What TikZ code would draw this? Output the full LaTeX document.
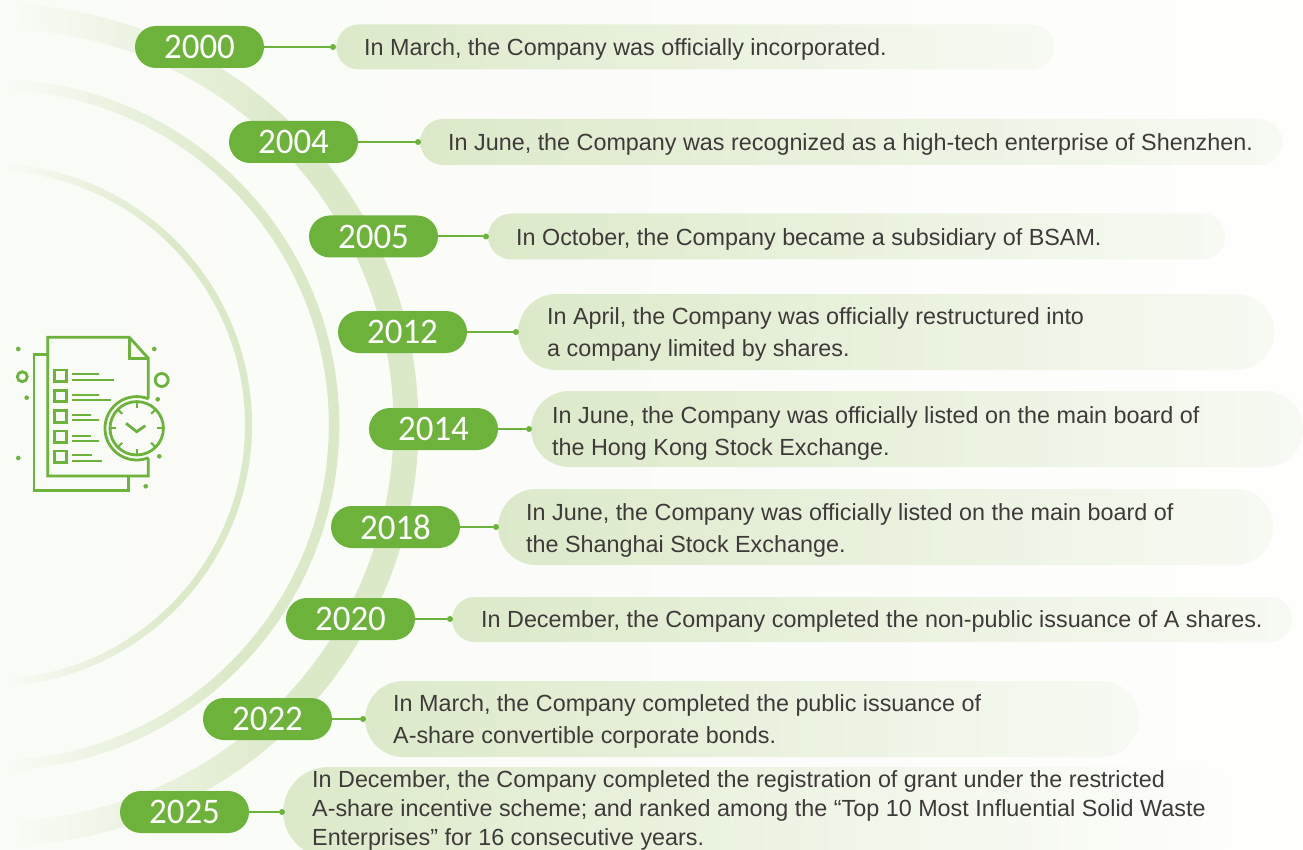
\documentclass[tikz,border=0pt]{standalone}
\usepackage{fontspec}
\setmainfont{Liberation Sans}
\newfontfamily\yearfont[FakeStretch=0.97]{Carlito}
\definecolor{leaf}{HTML}{6CB23B}
\definecolor{barleft}{HTML}{DCE9C9}
\definecolor{barright}{HTML}{F7FAF3}
\definecolor{paperleft}{HTML}{F9FBF6}
\definecolor{paperright}{HTML}{FEFEFD}
\definecolor{ink}{HTML}{3E3A39}
\tikzset{
  yearpill/.style={fill=leaf,text=white,rounded corners=21pt,minimum width=129pt,minimum height=42pt,inner sep=0pt,font=\yearfont\fontsize{36}{36}\selectfont},
  textbar/.style={left color=barleft,right color=barright,anchor=west,inner sep=0pt},
  desc/.style={anchor=west,inner sep=0pt,align=left,text=ink,font=\fontsize{23.35}{32}\selectfont},
  enddot/.style={circle,fill=leaf,minimum size=6pt,inner sep=0pt},
  link/.style={draw=leaf,line width=2pt},
  iconline/.style={draw=leaf,line width=2.8pt,line join=miter},
  iconthin/.style={draw=leaf,line width=2.1pt}
}

\begin{document}
\begin{tikzpicture}[x=1pt,y=-1pt]
\useasboundingbox (0,0) rectangle (1303,850);
\clip (0,0) rectangle (1303,850);
\shade[left color=paperleft,right color=paperright] (0,0) rectangle (1303,850);     %background

\begin{scope}[even odd rule]     %wide arc
\clip (-2.5,425) circle (421pt) (-2.5,425) circle (396pt);
\shade[left color=paperleft,right color=barleft] (15,0) rectangle (290,850);
\fill[barleft] (290,0) rectangle (430,850);
\end{scope}
\begin{scope}[even odd rule]     %middle arc
\clip (-6.4,425) circle (345.7pt) (-6.4,425) circle (335.2pt);
\shade[left color=paperleft,right color=barleft] (5,0) rectangle (230,850);
\fill[barleft] (230,0) rectangle (350,850);
\end{scope}
\begin{scope}[even odd rule]     %inner arc
\clip (-9.2,425) circle (261.2pt) (-9.2,425) circle (254.2pt);
\shade[left color=paperleft,right color=barleft] (5,0) rectangle (170,850);
\fill[barleft] (170,0) rectangle (260,850);
\end{scope}

%clock and list icon
\draw[iconline] (148.3,398.3) -- (148.3,358.3) -- (129.3,337.3) -- (47.7,337.3) -- (47.7,476) -- (148.3,476) -- (148.3,458.3);     %front page
\draw[iconline] (129.3,337.3) -- (129.3,358.3) -- (148.3,358.3);     %fold
\draw[iconline] (47.7,354.3) -- (34,354.3) -- (34,490.7) -- (128.3,490.7) -- (128.3,476);     %back page
\foreach \y in {375.7,396,416.3,436.7,456.7}
  \draw[iconline] (54.5,\y-5.8) rectangle (66.2,\y+5.8);     %check boxes
\foreach \y/\xa/\ya/\xb in {374.3/99.3/380/114.3,395/99.3/400.3/111,415.3/91.3/420.3/99.3,435.7/90.7/440.7/99.3,455.3/92.3/460.7/102.3}{
  \draw[iconthin] (71.7,\y) -- (\xa,\y);
  \draw[iconthin] (71.7,\ya) -- (\xb,\ya);
}
\coordinate (clock) at (136.7,428.3);
\draw[iconline] ([shift={(68:31.7pt)}]clock) arc (68:292:31.7pt);     %open ring
\draw[iconline] (clock) circle (26.7pt);     %clock face
\foreach \a in {0,45,...,315}
  \draw[iconthin] ([shift={(\a:26.7pt)}]clock) -- ([shift={(\a:20.5pt)}]clock);     %ticks
\draw[iconline] (126,423.3) -- (136.7,431.7) -- (145.3,425.7);     %hands
\draw[iconline] (22.3,376.7) circle (5pt);
\draw[iconline] (161.7,380) circle (6.5pt);
\foreach \x/\y in {18.3/349,26.7/397.7,18.3/458,154.3/349,157.7/399.3,159.3/456.3,145.7/486.3}
  \fill[leaf] (\x,\y) circle (2.3pt);

%text bars
\node[textbar,minimum width=718pt,minimum height=45pt,rounded corners=22.5pt] (bar2000) at (336,47) {};
\node[textbar,minimum width=862pt,minimum height=46pt,rounded corners=23pt] (bar2004) at (420,142) {};
\node[textbar,minimum width=737pt,minimum height=46pt,rounded corners=23pt] (bar2005) at (488,236.5) {};
\node[textbar,minimum width=756pt,minimum height=76pt,rounded corners=38pt] (bar2012) at (518,332) {};
\node[textbar,minimum width=772pt,minimum height=76pt,rounded corners=38pt] (bar2014) at (531,429) {};
\node[textbar,minimum width=775pt,minimum height=76pt,rounded corners=38pt] (bar2018) at (498,527) {};
\node[textbar,minimum width=840pt,minimum height=45pt,rounded corners=22.5pt] (bar2020) at (452,619.5) {};
\node[textbar,minimum width=774pt,minimum height=76pt,rounded corners=38pt] (bar2022) at (365,719) {};
\node[textbar,minimum width=960pt,minimum height=90pt,rounded corners=45pt,right color=paperright] (bar2025) at (283,812) {};

%year pills
\node[yearpill] (y2000) at (199.5,47) {2000};
\node[yearpill] (y2004) at (293.5,142) {2004};
\node[yearpill] (y2005) at (373.5,236.5) {2005};
\node[yearpill] (y2012) at (402.5,332) {2012};
\node[yearpill] (y2014) at (433.5,429) {2014};
\node[yearpill] (y2018) at (395.5,527) {2018};
\node[yearpill] (y2020) at (350.5,619) {2020};
\node[yearpill] (y2022) at (267.5,719) {2022};
\node[yearpill] (y2025) at (184.5,812) {2025};

%dots and connectors
\node[enddot] (dot2000) at (333,47) {};
\node[enddot] (dot2004) at (418,142) {};
\node[enddot] (dot2005) at (486,236.5) {};
\node[enddot] (dot2012) at (516,332) {};
\node[enddot] (dot2014) at (529,429) {};
\node[enddot] (dot2018) at (496,527) {};
\node[enddot] (dot2020) at (450,619) {};
\node[enddot] (dot2022) at (363,719) {};
\node[enddot] (dot2025) at (282,812) {};
\draw[link] (y2000) -- (dot2000);
\draw[link] (y2004) -- (dot2004);
\draw[link] (y2005) -- (dot2005);
\draw[link] (y2012) -- (dot2012);
\draw[link] (y2014) -- (dot2014);
\draw[link] (y2018) -- (dot2018);
\draw[link] (y2020) -- (dot2020);
\draw[link] (y2022) -- (dot2022);
\draw[link] (y2025) -- (dot2025);

%texts
\node[desc] (t2000) at (364,49.5) {In March, the Company was officially incorporated.};
\node[desc] (t2004) at (448,144.5) {In June, the Company was recognized as a high-tech enterprise of Shenzhen.};
\node[desc] (t2005) at (516,239) {In October, the Company became a subsidiary of BSAM.};
\node[desc] (t2012) at (547,334.5) {In April, the Company was officially restructured into\\a company limited by shares.};
\node[desc] (t2014) at (552,433.5) {In June, the Company was officially listed on the main board of\\the Hong Kong Stock Exchange.};
\node[desc] (t2018) at (526,530.5) {In June, the Company was officially listed on the main board of\\the Shanghai Stock Exchange.};
\node[desc] (t2020) at (481,621.5) {In December, the Company completed the non-public issuance of A shares.};
\node[desc] (t2022) at (393,721.5) {In March, the Company completed the public issuance of\\A-share convertible corporate bonds.};
\node[desc,font=\fontsize{23.35}{29}\selectfont] (t2025) at (312,810.5) {In December, the Company completed the registration of grant under the restricted\\A-share incentive scheme; and ranked among the “Top 10 Most Influential Solid Waste\\Enterprises” for 16 consecutive years.};
\end{tikzpicture}
\end{document}
